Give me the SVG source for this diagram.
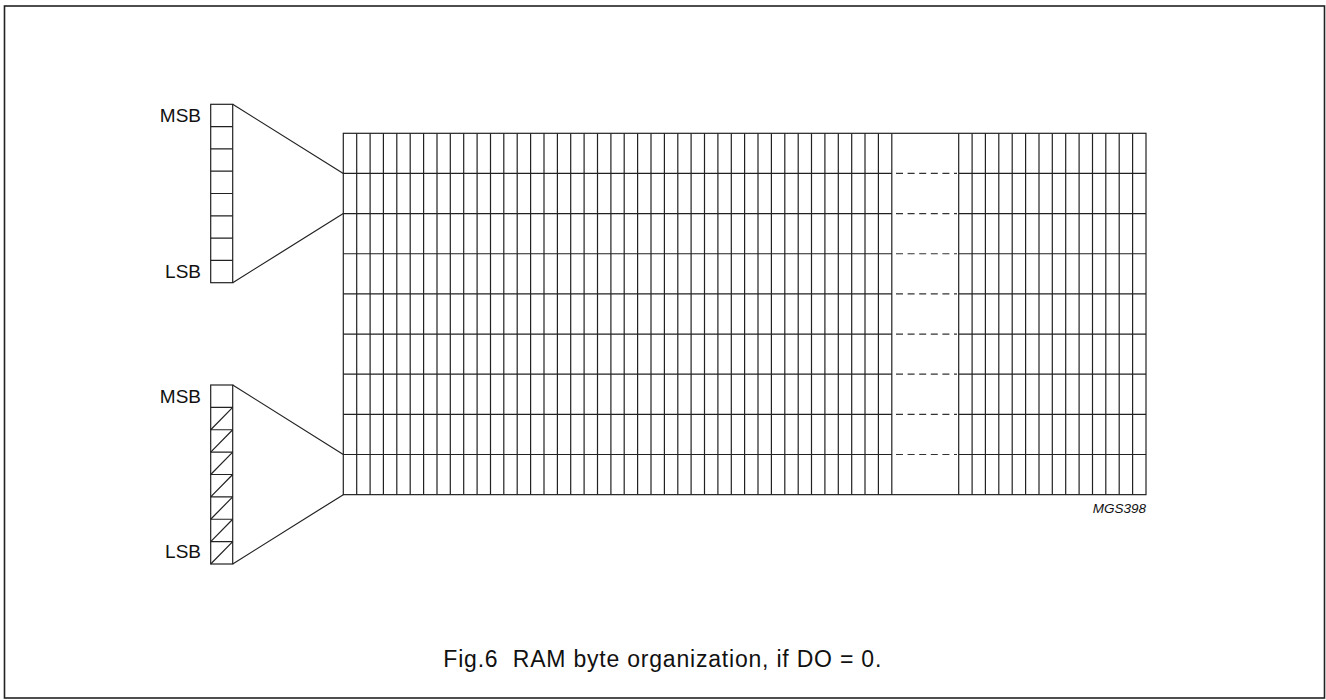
<svg xmlns="http://www.w3.org/2000/svg" width="1326" height="700" viewBox="0 0 1326 700">
<style>
.ln{fill:none;stroke:#222;stroke-width:1.2}
.dash{fill:none;stroke:#333;stroke-width:1.2;stroke-dasharray:7 4.6}
.lbl{font-family:"Liberation Sans",Arial,sans-serif;font-size:19px;fill:#111}
.cap{font-family:"Liberation Sans",Arial,sans-serif;font-size:23px;fill:#111}
.code{font-family:"Liberation Sans",Arial,sans-serif;font-size:13.5px;font-style:italic;fill:#111}
</style>
<rect x="4.5" y="6" width="1320" height="692" fill="#fff" stroke="#222" stroke-width="1.6"/>
<g id="ram-grid">
<rect class="ln" x="343.3" y="133.3" width="802.7" height="361.35"/>
<path class="ln" d="M356.7 133.3V494.65M370.1 133.3V494.65M383.4 133.3V494.65M396.8 133.3V494.65M410.2 133.3V494.65M423.6 133.3V494.65M437 133.3V494.65M450.3 133.3V494.65M463.7 133.3V494.65M477.1 133.3V494.65M490.5 133.3V494.65M503.8 133.3V494.65M517.2 133.3V494.65M530.6 133.3V494.65M544 133.3V494.65M557.4 133.3V494.65M570.7 133.3V494.65M584.1 133.3V494.65M597.5 133.3V494.65M610.9 133.3V494.65M624.2 133.3V494.65M637.6 133.3V494.65M651 133.3V494.65M664.4 133.3V494.65M677.8 133.3V494.65M691.1 133.3V494.65M704.5 133.3V494.65M717.9 133.3V494.65M731.3 133.3V494.65M744.6 133.3V494.65M758 133.3V494.65M771.4 133.3V494.65M784.8 133.3V494.65M798.2 133.3V494.65M811.5 133.3V494.65M824.9 133.3V494.65M838.3 133.3V494.65M851.7 133.3V494.65M865 133.3V494.65M878.4 133.3V494.65M891.8 133.3V494.65M958.7 133.3V494.65M972.1 133.3V494.65M985.4 133.3V494.65M998.8 133.3V494.65M1012.2 133.3V494.65M1025.6 133.3V494.65M1039 133.3V494.65M1052.3 133.3V494.65M1065.7 133.3V494.65M1079.1 133.3V494.65M1092.5 133.3V494.65M1105.8 133.3V494.65M1119.2 133.3V494.65M1132.6 133.3V494.65"/>
<path class="ln" d="M343.3 173.45H891.8M958.7 173.45H1146M343.3 213.6H891.8M958.7 213.6H1146M343.3 253.75H891.8M958.7 253.75H1146M343.3 293.9H891.8M958.7 293.9H1146M343.3 334.05H891.8M958.7 334.05H1146M343.3 374.2H891.8M958.7 374.2H1146M343.3 414.35H891.8M958.7 414.35H1146M343.3 454.5H891.8M958.7 454.5H1146"/>
<path class="dash" d="M896 173.45H957M896 213.6H957M896 253.75H957M896 293.9H957M896 334.05H957M896 374.2H957M896 414.35H957M896 454.5H957"/>
</g>
<g id="byte-top">
<rect class="ln" x="210.7" y="104.3" width="22" height="178.4"/>
<path class="ln" d="M210.7 126.6H232.7M210.7 148.9H232.7M210.7 171.2H232.7M210.7 193.5H232.7M210.7 215.8H232.7M210.7 238.1H232.7M210.7 260.4H232.7"/>
<text class="lbl" x="201" y="121.7" text-anchor="end">MSB</text>
<text class="lbl" x="201" y="277.7" text-anchor="end">LSB</text>
</g>
<g id="byte-bottom">
<rect class="ln" x="210.7" y="385" width="22" height="179"/>
<path class="ln" d="M210.7 407.4H232.7M210.7 429.75H232.7M210.7 452.1H232.7M210.7 474.5H232.7M210.7 496.9H232.7M210.7 519.25H232.7M210.7 541.6H232.7"/>
<path class="ln" d="M210.7 429.75L232.7 407.4M210.7 452.1L232.7 429.75M210.7 474.5L232.7 452.1M210.7 496.9L232.7 474.5M210.7 519.25L232.7 496.9M210.7 541.6L232.7 519.25M210.7 564L232.7 541.6"/>
<text class="lbl" x="201" y="402.7" text-anchor="end">MSB</text>
<text class="lbl" x="201" y="557.7" text-anchor="end">LSB</text>
</g>
<g id="connectors">
<path class="ln" d="M232.7 104.3L343.3 173.45M232.7 282.7L343.3 213.6M232.7 385L343.3 454.5M232.7 564L343.3 494.65"/>
</g>
<text class="code" x="1146" y="512.7" text-anchor="end">MGS398</text>
<text class="cap" x="443.3" y="666.7" xml:space="preserve" textLength="438" lengthAdjust="spacing">Fig.6  RAM byte organization, if DO = 0.</text>
</svg>
